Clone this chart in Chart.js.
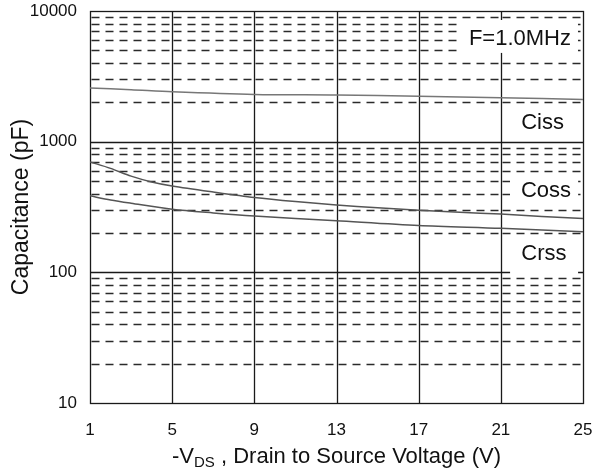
<!DOCTYPE html>
<html>
<head>
<meta charset="utf-8">
<script src="https://cdn.jsdelivr.net/npm/chart.js@4/dist/chart.umd.min.js"></script>
<style>
  html, body { margin: 0; padding: 0; background: #fff; }
  #wrap { width: 595px; height: 474px; position: relative; }
</style>
</head>
<body>
<div id="wrap"><canvas id="c" width="595" height="474"></canvas></div>
<script>
// Capacitance vs. -VDS, F = 1.0 MHz
const cissV  = [1, 3, 5, 9, 13, 17, 21, 25];
const cissPF = [2580, 2500, 2410, 2300, 2275, 2230, 2170, 2105];

const cossV  = [1, 2, 3, 4, 5, 7, 9, 11, 13, 15, 17, 19, 21, 23, 25];
const cossPF = [700, 625, 545, 492, 458, 412, 374, 348, 328, 312, 299, 288, 279, 268, 258];

const crssV  = [1, 2, 3, 5, 7, 9, 13, 17, 21, 25];
const crssPF = [385, 358, 338, 304, 285, 270, 248, 228, 217, 204];

const xTicks   = [1, 5, 9, 13, 17, 21, 25];
const yDecades = [10, 100, 1000, 10000];
const minorSteps = [2, 3, 4, 5, 6, 7, 8, 9];

const labelTexts = ['F=1.0MHz', 'Ciss', 'Coss', 'Crss'];
// anchor (V, pF) and white backing box in value coordinates
const labelAnchors = [
  { x: 21.93, y: 5500, box: [19.0, 24.75, 8535, 4777] },
  { x: 23.03, y: 1257, box: [21.45, 24.76, 1849, 1073] },
  { x: 23.20, y: 380,  box: [21.45, 24.76, 560, 319] },
  { x: 23.10, y: 123.7, box: [21.45, 24.76, 188, 94.8] }
];

const FONT = "'Liberation Sans', Arial, Helvetica, sans-serif";

function toPoints(xs, ys) { return xs.map((v, i) => ({ x: v, y: ys[i] })); }

function fillBoxes(ctx, xs, ys) {
  ctx.fillStyle = '#fff';
  for (const a of labelAnchors) {
    const [x0, x1, y0, y1] = a.box;
    const X0 = xs.getPixelForValue(x0), X1 = xs.getPixelForValue(x1);
    const Y0 = ys.getPixelForValue(y0), Y1 = ys.getPixelForValue(y1);
    ctx.fillRect(X0, Y0, X1 - X0, Y1 - Y0);
  }
}

function zeroPad(s) {
  s.paddingTop = 0; s.paddingBottom = 0; s.paddingLeft = 0; s.paddingRight = 0;
}

const gridPlugin = {
  id: 'capGrid',
  beforeDatasetsDraw(chart) {
    const { ctx, chartArea: ca, scales: { x: xs, y: ys } } = chart;
    const px = v => Math.round(xs.getPixelForValue(v)) + 0.5;
    const py = v => Math.round(ys.getPixelForValue(v)) + 0.5;
    ctx.save();
    // dashed minor lines, restarted in each column
    ctx.strokeStyle = '#2a2a2a';
    ctx.lineWidth = 1.3;
    ctx.setLineDash([8, 6]);
    for (let d = 0; d < yDecades.length - 1; d++) {
      for (const k of minorSteps) {
        const y = py(k * yDecades[d]);
        for (let i = 0; i < xTicks.length - 1; i++) {
          ctx.beginPath();
          ctx.lineDashOffset = 0;
          ctx.moveTo(px(xTicks[i]) + 1, y);
          ctx.lineTo(px(xTicks[i + 1]), y);
          ctx.stroke();
        }
      }
    }
    ctx.setLineDash([]);
    fillBoxes(ctx, xs, ys);
    // solid decade lines and column lines
    ctx.strokeStyle = '#1a1a1a';
    ctx.lineWidth = 1.3;
    for (const d of yDecades.slice(1, -1)) {
      const y = py(d);
      ctx.beginPath(); ctx.moveTo(ca.left, y); ctx.lineTo(ca.right, y); ctx.stroke();
    }
    for (const v of xTicks.slice(1, -1)) {
      const x = px(v);
      ctx.beginPath(); ctx.moveTo(x, ca.top); ctx.lineTo(x, ca.bottom); ctx.stroke();
    }
    // labels sit on clean white
    fillBoxes(ctx, xs, ys);
    // frame
    const L = px(xTicks[0]), R = px(xTicks[xTicks.length - 1]);
    const T = py(yDecades[yDecades.length - 1]), B = py(yDecades[0]);
    ctx.strokeRect(L, T, R - L, B - T);
    ctx.restore();
  },
  afterDraw(chart) {
    const { ctx, chartArea: ca, scales: { x: xs, y: ys } } = chart;
    ctx.save();
    ctx.fillStyle = '#111';
    // curve labels
    ctx.font = '22px ' + FONT;
    ctx.textAlign = 'center';
    ctx.textBaseline = 'alphabetic';
    labelAnchors.forEach((a, i) => {
      ctx.fillText(labelTexts[i], xs.getPixelForValue(a.x), ys.getPixelForValue(a.y));
    });
    // y axis title
    ctx.save();
    ctx.translate(28, (ca.top + ca.bottom) / 2);
    ctx.rotate(-Math.PI / 2);
    ctx.font = '23px ' + FONT;
    ctx.textAlign = 'center';
    ctx.fillText('Capacitance (pF)', 0, 0);
    ctx.restore();
    // x axis title with subscript
    const big = '22px ' + FONT, small = '15px ' + FONT;
    const p1 = '-V', p2 = 'DS', p3 = ' , Drain to Source Voltage (V)';
    ctx.font = big; const w1 = ctx.measureText(p1).width, w3 = ctx.measureText(p3).width;
    ctx.font = small; const w2 = ctx.measureText(p2).width;
    let x = (ca.left + ca.right) / 2 - (w1 + w2 + w3) / 2;
    const base = 463;
    ctx.textAlign = 'left';
    ctx.font = big; ctx.fillText(p1, x, base); x += w1;
    ctx.font = small; ctx.fillText(p2, x, base + 4); x += w2;
    ctx.font = big; ctx.fillText(p3, x, base);
    ctx.restore();
  }
};

new Chart(document.getElementById('c'), {
  type: 'line',
  data: {
    datasets: [
      { label: 'Ciss', data: toPoints(cissV, cissPF), borderColor: '#777', borderWidth: 1.5 },
      { label: 'Coss', data: toPoints(cossV, cossPF), borderColor: '#555', borderWidth: 1.5 },
      { label: 'Crss', data: toPoints(crssV, crssPF), borderColor: '#555', borderWidth: 1.5 }
    ]
  },
  options: {
    responsive: false,
    animation: false,
    events: [],
    layout: { padding: { top: 11, right: 12, left: 0, bottom: 0 } },
    elements: { point: { radius: 0 }, line: { tension: 0.3, fill: false } },
    plugins: { legend: { display: false }, tooltip: { enabled: false } },
    scales: {
      x: {
        type: 'linear',
        min: xTicks[0], max: xTicks[xTicks.length - 1],
        afterBuildTicks: s => { s.ticks = xTicks.map(v => ({ value: v })); },
        afterFit: s => { s.height = 71; zeroPad(s); },
        grid: { display: false, drawTicks: false },
        border: { display: false },
        ticks: { padding: 17, color: '#111', font: { family: FONT, size: 17 }, maxRotation: 0, autoSkip: false }
      },
      y: {
        type: 'logarithmic',
        min: yDecades[0], max: yDecades[yDecades.length - 1],
        afterBuildTicks: s => { s.ticks = yDecades.map(v => ({ value: v })); },
        afterFit: s => { s.width = 90; zeroPad(s); },
        grid: { display: false, drawTicks: false },
        border: { display: false },
        ticks: { padding: 13, color: '#111', font: { family: FONT, size: 17 }, autoSkip: false,
                 callback: v => String(v) }
      }
    }
  },
  plugins: [gridPlugin]
});
</script>
</body>
</html>
